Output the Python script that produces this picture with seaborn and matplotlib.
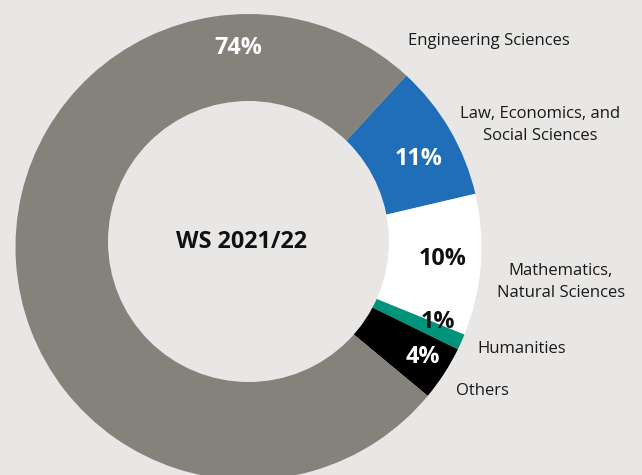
import numpy as np
import pandas as pd
import matplotlib
matplotlib.use("Agg")
import matplotlib.pyplot as plt
from matplotlib.patches import Circle
import seaborn as sns

# shares (clockwise from the top right)
fields = ["Law, Economics, and\nSocial Sciences", "Mathematics,\nNatural Sciences",
          "Humanities", "Others", "Engineering Sciences"]
shares = [9.5, 9.8, 1.1, 3.8, 75.8]
pct_labels = ["11%", "10%", "1%", "4%", "74%"]
colors = ["#1f6eb7", "#ffffff", "#00957b", "#000000", "#85817b"]

bg = "#e8e7e5"

sns.set_theme(style="white")
plt.rcParams['font.family'] = ['Open Sans', 'DejaVu Sans']

df = pd.DataFrame({"field": fields, "share": shares, "pct": pct_labels, "color": colors})

fig = plt.figure(figsize=(6.42, 4.75), dpi=100, facecolor=bg)
ax = fig.add_axes([0, 0, 1, 1])
ax.set_facecolor(bg)

# y axis runs downwards (pixel like), so counterclock=True draws clockwise on screen
ax.pie(df["share"], colors=df["color"], startangle=-47.4, counterclock=True,
       radius=233, center=(248.5, 247),
       wedgeprops=dict(linewidth=0, antialiased=True))
ax.add_patch(Circle((248.5, 241.5), 140.5, facecolor=bg, edgecolor="none", zorder=3))

ax.set_xlim(0, 642)
ax.set_ylim(475, 0)
ax.set_aspect("equal")
ax.axis("off")

dy = 2  # va="center" counts the descent, nudge glyphs down a bit

# percent labels inside the ring
pct_pos = [(419, 157), (443, 257), (438, 320), (423, 355), (238, 46)]
pct_col = ["white", "#111111", "#111111", "white", "white"]
for (x, y), txt, c in zip(pct_pos, df["pct"], pct_col):
    ax.text(x, y + dy, txt, ha="center", va="center", fontsize=16.8,
            fontweight="bold", color=c, zorder=5)

# category labels outside
lab_pos = [(540, 123), (561, 280), (522, 347), (482, 389), (489, 39)]
for (x, y), txt in zip(lab_pos, df["field"]):
    ax.text(x, y + dy, txt, ha="center", va="center", fontsize=12,
            color="#1a1a1a", linespacing=1.45, multialignment="center", zorder=5)

ax.text(241, 240 + dy, "WS 2021/22", ha="center", va="center", fontsize=16.8,
        fontweight="bold", color="#111111", zorder=5)

fig.savefig("out.png", dpi=100, facecolor=bg)
